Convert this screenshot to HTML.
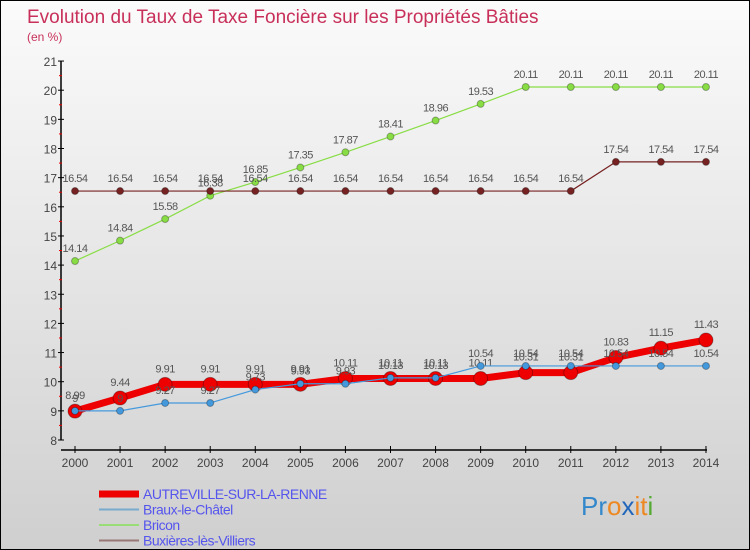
<!DOCTYPE html>
<html><head><meta charset="utf-8"><style>
body{margin:0;}
#wrap{position:relative;width:748px;height:548px;border:1px solid #000;background:linear-gradient(#fbfbfb,#cfcfcf);font-family:"Liberation Sans",sans-serif;overflow:hidden}
</style></head><body>
<div id="wrap">
<svg id="c" width="748" height="548"></svg>
</div>
<script>
const years=["2000","2001","2002","2003","2004","2005","2006","2007","2008","2009","2010","2011","2012","2013","2014"];
const yTicks=[8,9,10,11,12,13,14,15,16,17,18,19,20,21];
const autreville=[8.99,9.44,9.91,9.91,9.91,9.91,10.11,10.11,10.11,10.11,10.31,10.31,10.83,11.15,11.43];
const braux=[9,9,9.27,9.27,9.73,9.93,9.93,10.13,10.13,10.54,10.54,10.54,10.54,10.54,10.54];
const bricon=[14.14,14.84,15.58,16.38,16.85,17.35,17.87,18.41,18.96,19.53,20.11,20.11,20.11,20.11,20.11];
const buxieres=[16.54,16.54,16.54,16.54,16.54,16.54,16.54,16.54,16.54,16.54,16.54,16.54,17.54,17.54,17.54];
const svg=document.getElementById('c');const NS='http://www.w3.org/2000/svg';
function X(i){return 74+i*45.07;}
function Y(v){return 439-(v-8)*29.15;}
function mk(t,a,p){const e=document.createElementNS(NS,t);for(const k in a)e.setAttribute(k,a[k]);(p||svg).appendChild(e);return e;}
function tx(x,y,s,a,p){const e=mk('text',Object.assign({x:x,y:y},a),p);e.textContent=s;return e;}
const title=tx(26,22,'Evolution du Taux de Taxe Foncière sur les Propriétés Bâties',{fill:'#c8305a','font-size':19});


const sub=tx(26,40,'(en %)',{fill:'#c8305a','font-size':12});


const ax=mk('g',{});


mk('line',{x1:60,y1:Y(21),x2:60,y2:Y(8),stroke:'#000','stroke-width':1.5},ax);
mk('line',{x1:60,y1:449,x2:706,y2:449,stroke:'#000','stroke-width':1.5},ax);
yTicks.forEach(v=>{mk('line',{x1:57,y1:Y(v),x2:63,y2:Y(v),stroke:'#000'},ax);
 if(v<21)mk('line',{x1:58,y1:Y(v+0.5),x2:61,y2:Y(v+0.5),stroke:'#e00'},ax);
 const t=tx(56,Y(v)+5,String(v),{'text-anchor':'end','font-size':12,fill:'#444'},ax);
 
 });
years.forEach((y,i)=>{mk('line',{x1:X(i),y1:445,x2:X(i),y2:452,stroke:'#000'},ax);
 const t=tx(X(i),466,y,{'text-anchor':'middle','font-size':12,fill:'#444'},ax);
 
 });
function series(data,color,lw,r,name,lblOff){
 const g=mk('g',{});
 
 
 mk('polyline',{points:data.map((v,i)=>X(i)+','+Y(v)).join(' '),fill:'none',stroke:color,'stroke-width':lw,'stroke-linejoin':'round'},g);
 data.forEach((v,i)=>{const c=mk('circle',{cx:X(i),cy:Y(v),r:r,fill:color,stroke:'rgba(0,0,0,0.3)','stroke-width':1},g);
  
  
  const t=tx(X(i),Y(v)-lblOff,String(v),{'text-anchor':'middle','font-size':11,fill:'#555','letter-spacing':'-0.5'},g);
  
  });
}
series(bricon,'#88dd44',1.2,3.5,'series-bricon',9);
series(buxieres,'#772222',1.2,3.5,'series-buxieres',9);
series(autreville,'#ee0000',7,7,'series-autreville',12);
series(braux,'#4499dd',1.2,3.5,'series-braux',9);
const lg=mk('g',{});


[['AUTREVILLE-SUR-LA-RENNE','#ee0000',7],['Braux-le-Châtel','#77aacc',2],['Bricon','#99dd77',2],['Buxières-lès-Villiers','#997777',2]].forEach((d,i)=>{
 const yy=493+i*15.5;
 mk('line',{x1:98,y1:yy,x2:138,y2:yy,stroke:d[1],'stroke-width':d[2]},lg);
 const t=tx(142,yy+5,d[0],{'font-size':14,fill:'#5555ee','letter-spacing':'-0.5'},lg);
 
 });
const logo=mk('text',{x:580,y:514,'font-size':26});


[['Pr','#3388cc'],['o','#ee8822'],['x','#2266bb'],['i','#ee8822'],['t','#ee8822'],['i','#55aa33']].forEach(p=>{const s=mk('tspan',{fill:p[1]},logo);s.textContent=p[0];});
</script>
</body></html>
